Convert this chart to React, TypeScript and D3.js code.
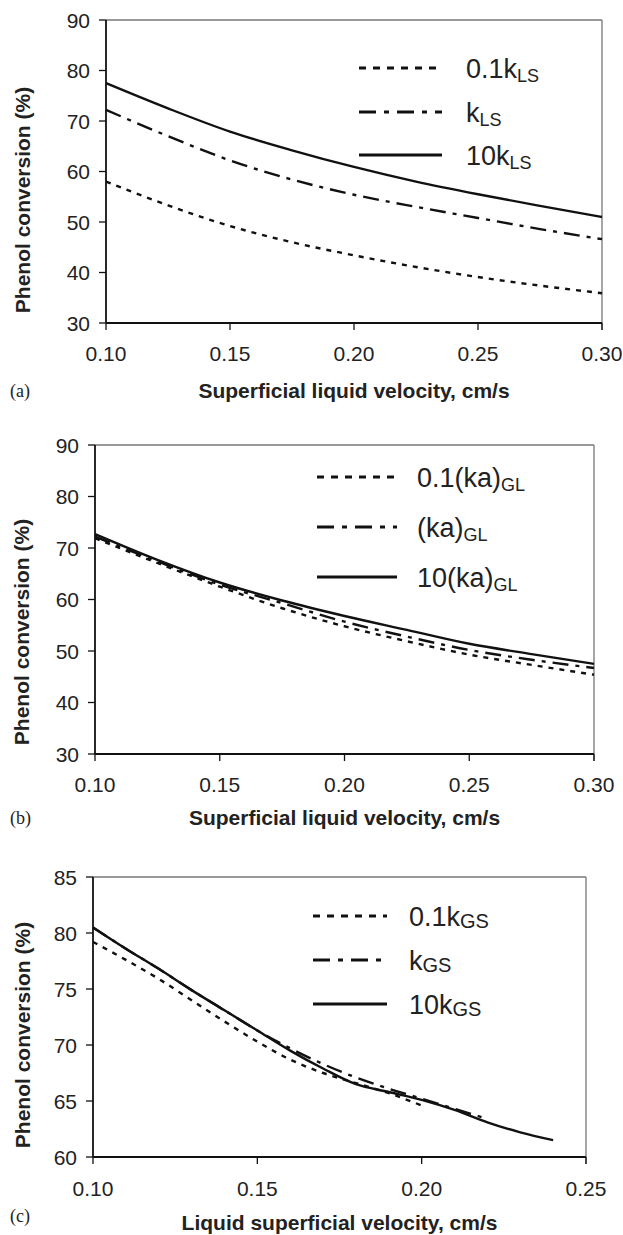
import React from "react";
import * as d3 from "d3";

// ---------- data ----------
const X_AB = [0.10, 0.125, 0.15, 0.175, 0.20, 0.225, 0.25, 0.275, 0.30];
const A_01 = [58.0, 53.3, 49.2, 46.0, 43.4, 41.1, 39.1, 37.4, 35.9];
const A_1 = [72.2, 67.0, 62.2, 58.4, 55.4, 53.0, 50.8, 48.6, 46.6];
const A_10 = [77.5, 72.5, 67.9, 64.2, 60.9, 58.0, 55.5, 53.2, 51.0];

const B_01 = [71.9, 67.1, 62.5, 58.3, 54.8, 51.9, 49.3, 47.3, 45.4];
const B_1 = [72.2, 67.4, 62.9, 59.3, 55.7, 52.8, 50.2, 48.3, 46.7];
const B_10 = [72.7, 67.7, 63.3, 59.8, 56.8, 54.1, 51.4, 49.4, 47.5];

const X_C01 = [0.10, 0.11, 0.12, 0.13, 0.14, 0.15, 0.16, 0.17, 0.18, 0.19, 0.20];
const C_01 = [79.2, 77.6, 75.9, 74.0, 72.1, 70.3, 68.7, 67.5, 66.6, 65.7, 64.6];
const X_C1 = [0.10, 0.11, 0.12, 0.13, 0.14, 0.15, 0.16, 0.17, 0.18, 0.19, 0.20, 0.21, 0.22];
const C_1 = [80.5, 78.6, 76.8, 74.9, 73.1, 71.3, 69.7, 68.3, 67.1, 66.1, 65.2, 64.3, 63.4];
const X_C10 = [0.10, 0.11, 0.12, 0.13, 0.14, 0.15, 0.16, 0.17, 0.18, 0.19, 0.20, 0.21, 0.22, 0.23, 0.24];
const C_10 = [80.5, 78.6, 76.8, 74.9, 73.1, 71.3, 69.5, 67.9, 66.5, 65.8, 65.1, 64.2, 63.1, 62.2, 61.5];

const X_TICKS_AB = [0.10, 0.15, 0.20, 0.25, 0.30];
const Y_TICKS_AB = [30, 40, 50, 60, 70, 80, 90];
const X_TICKS_C = [0.10, 0.15, 0.20, 0.25];
const Y_TICKS_C = [60, 65, 70, 75, 80, 85];

const LEGEND_A = [["0.1k", "LS"], ["k", "LS"], ["10k", "LS"]];
const LEGEND_B = [["0.1(ka)", "GL"], ["(ka)", "GL"], ["10(ka)", "GL"]];
const LEGEND_C = [["0.1k", "GS"], ["k", "GS"], ["10k", "GS"]];

const Y_TITLE = "Phenol conversion (%)";
const X_TITLE_AB = "Superficial liquid velocity, cm/s";
const X_TITLE_C = "Liquid superficial velocity, cm/s";

// ---------- styles ----------
const DASHES = ["5,6", "16,7,4,7", ""];
const LEG_DASHES = ["7,7", "17,8,5,8", ""];
const SANS = "'Liberation Sans', Arial, Helvetica, sans-serif";
const SERIF = "'Liberation Serif', 'Times New Roman', serif";

type Series = { x: number[]; y: number[] };
type Panel = {
  tag: string;
  left: number; right: number; top: number; bottom: number;
  xDomain: [number, number]; yDomain: [number, number];
  xTicks: number[]; yTicks: number[];
  series: Series[];
  legend: string[][];
  legX: number; legY: number[]; legW: number; textX: number;
  subSize: number; subDy: number;
  xTitle: string; xLabY: number; xTitleY: number; tagY: number; yTitleX: number; yTitleY: number;
};

const panels: Panel[] = [
  {
    tag: "(a)", left: 106, right: 602, top: 20, bottom: 323,
    xDomain: [0.1, 0.3], yDomain: [30, 90], xTicks: X_TICKS_AB, yTicks: Y_TICKS_AB,
    series: [{ x: X_AB, y: A_01 }, { x: X_AB, y: A_1 }, { x: X_AB, y: A_10 }],
    legend: LEGEND_A, legX: 359, legY: [68, 112, 155], legW: 83, textX: 466,
    subSize: 18, subDy: 4,
    xTitle: X_TITLE_AB, xLabY: 361, xTitleY: 398, tagY: 397, yTitleX: 22, yTitleY: 200,
  },
  {
    tag: "(b)", left: 95, right: 594, top: 445, bottom: 754,
    xDomain: [0.1, 0.3], yDomain: [30, 90], xTicks: X_TICKS_AB, yTicks: Y_TICKS_AB,
    series: [{ x: X_AB, y: B_01 }, { x: X_AB, y: B_1 }, { x: X_AB, y: B_10 }],
    legend: LEGEND_B, legX: 317, legY: [477, 527, 577], legW: 80, textX: 417,
    subSize: 18, subDy: 4,
    xTitle: X_TITLE_AB, xLabY: 792, xTitleY: 825, tagY: 824, yTitleX: 21, yTitleY: 632,
  },
  {
    tag: "(c)", left: 93, right: 586, top: 877, bottom: 1157,
    xDomain: [0.1, 0.25], yDomain: [60, 85], xTicks: X_TICKS_C, yTicks: Y_TICKS_C,
    series: [{ x: X_C01, y: C_01 }, { x: X_C1, y: C_1 }, { x: X_C10, y: C_10 }],
    legend: LEGEND_C, legX: 313, legY: [916, 960, 1004], legW: 74, textX: 409,
    subSize: 20, subDy: 2,
    xTitle: X_TITLE_C, xLabY: 1196, xTitleY: 1230, tagY: 1222, yTitleX: 22, yTitleY: 1035,
  },
];

function PanelView({ p }: { p: Panel }) {
  const x = d3.scaleLinear().domain(p.xDomain).range([p.left, p.right]);
  const y = d3.scaleLinear().domain(p.yDomain).range([p.bottom, p.top]);
  const line = d3
    .line<[number, number]>()
    .x((d) => x(d[0]))
    .y((d) => y(d[1]))
    .curve(d3.curveMonotoneX);
  const fmt = d3.format(".2f");
  return (
    <g>
      <line x1={p.left} x2={p.right} y1={p.top} y2={p.top} stroke="#777" strokeWidth={1.3} />
      <line x1={p.right} x2={p.right} y1={p.top} y2={p.bottom + 7} stroke="#777" strokeWidth={1.3} />
      {p.series.map((s, i) => (
        <path
          key={i}
          d={line(s.x.map((v, j) => [v, s.y[j]] as [number, number])) || ""}
          fill="none"
          stroke="#111"
          strokeWidth={2.4}
          strokeDasharray={DASHES[i] || undefined}
        />
      ))}
      <line x1={p.left} x2={p.left} y1={p.top} y2={p.bottom} stroke="#111" strokeWidth={1.8} />
      <line x1={p.left} x2={p.right} y1={p.bottom} y2={p.bottom} stroke="#111" strokeWidth={1.8} />
      {p.yTicks.map((t) => (
        <g key={"y" + t}>
          <line x1={p.left - 7} x2={p.left} y1={y(t)} y2={y(t)} stroke="#111" strokeWidth={1.3} />
          <text x={p.left - 16} y={y(t)} dy="0.36em" textAnchor="end" fontFamily={SANS} fontSize={21} fill="#222">
            {t}
          </text>
        </g>
      ))}
      {p.xTicks.map((t) => (
        <g key={"x" + t}>
          <line x1={x(t)} x2={x(t)} y1={p.bottom} y2={p.bottom + 7} stroke="#111" strokeWidth={1.3} />
          <text x={x(t)} y={p.xLabY} textAnchor="middle" fontFamily={SANS} fontSize={21} fill="#222">
            {fmt(t)}
          </text>
        </g>
      ))}
      {p.legend.map((l, i) => (
        <g key={"l" + i}>
          <line
            x1={p.legX}
            x2={p.legX + p.legW}
            y1={p.legY[i]}
            y2={p.legY[i]}
            stroke="#111"
            strokeWidth={3}
            strokeDasharray={LEG_DASHES[i] || undefined}
          />
          <text x={p.textX} y={p.legY[i] + 10} fontFamily={SANS} fontSize={27} fill="#222">
            {l[0]}
            <tspan fontSize={p.subSize} dy={p.subDy}>
              {l[1]}
            </tspan>
          </text>
        </g>
      ))}
      <text
        transform={`translate(${p.yTitleX},${p.yTitleY}) rotate(-90)`}
        dy="0.36em"
        textAnchor="middle"
        fontFamily={SANS}
        fontWeight="bold"
        fontSize={21}
        fill="#222"
      >
        {Y_TITLE}
      </text>
      <text
        x={(p.left + p.right) / 2}
        y={p.xTitleY}
        textAnchor="middle"
        fontFamily={SANS}
        fontWeight="bold"
        fontSize={21}
        fill="#222"
      >
        {p.xTitle}
      </text>
      <text x={10} y={p.tagY} fontFamily={SERIF} fontSize={18} fill="#222">
        {p.tag}
      </text>
    </g>
  );
}

export default function App() {
  return (
    <svg
      width={623}
      height={1235}
      viewBox="0 0 623 1235"
      style={{ position: "absolute", left: 0, top: 0, background: "#fff" }}
    >
      <rect width={623} height={1235} fill="#fff" />
      {panels.map((p) => (
        <PanelView key={p.tag} p={p} />
      ))}
    </svg>
  );
}
